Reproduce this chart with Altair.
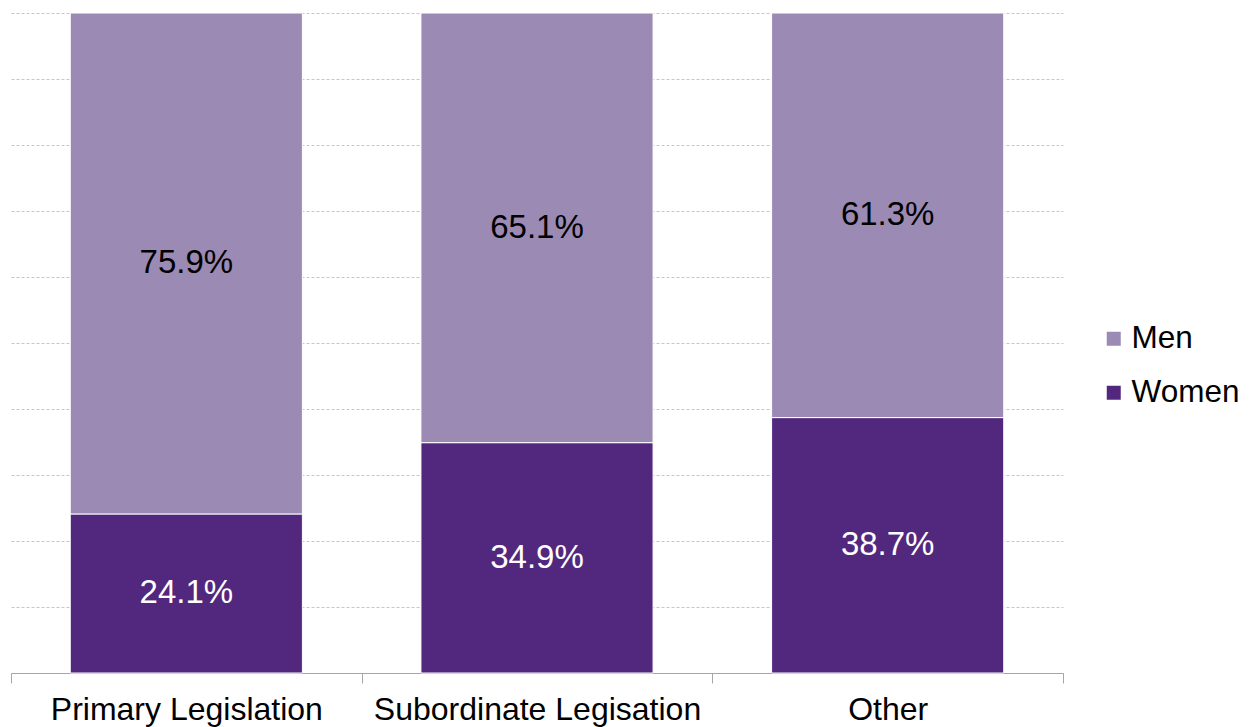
import altair as alt
import pandas as pd

categories = ["Primary Legislation", "Subordinate Legisation", "Other"]
women = [24.1, 34.9, 38.7]
men = [75.9, 65.1, 61.3]

rows = []
for c, w, m in zip(categories, women, men):
    rows.append({"category": c, "sex": "Women", "value": w, "ord": 0})
    rows.append({"category": c, "sex": "Men", "value": m, "ord": 1})
df = pd.DataFrame(rows)

FONT = "Liberation Sans"
W, H = 1052, 660

x_enc = alt.X(
    "category:N",
    sort=categories,
    title=None,
    scale=alt.Scale(paddingInner=0, paddingOuter=0),
    axis=alt.Axis(
        labelAngle=0,
        labelFontSize=32,
        labelFont=FONT,
        labelColor="black",
        labelPadding=11,
        labelLimit=0,
        tickBand="extent",
        tickSize=10,
        tickColor="#a6a6a6",
        domainColor="#a6a6a6",
        grid=False,
    ),
)

bars = alt.Chart(df).mark_bar(
    stroke="white", strokeWidth=1, width=alt.RelativeBandSize(0.662)
).encode(
    x=x_enc,
    y=alt.Y(
        "value:Q",
        stack="zero",
        scale=alt.Scale(domain=[0, 100], nice=False),
        title=None,
        axis=alt.Axis(
            values=[0, 10, 20, 30, 40, 50, 60, 70, 80, 90, 100],
            labels=False,
            ticks=False,
            domain=False,
            grid=True,
            gridColor="#c6c6c6",
            gridDash=[3, 2],
            gridWidth=1,
        ),
    ),
    color=alt.Color(
        "sex:N",
        scale=alt.Scale(domain=["Men", "Women"], range=["#9a8ab4", "#52287e"]),
        legend=alt.Legend(
            title=None,
            orient="none",
            legendX=1087,
            legendY=310,
            labelFontSize=31.5,
            labelFont=FONT,
            labelColor="black",
            symbolType="square",
            symbolSize=196,
            symbolStrokeWidth=0,
            rowPadding=21,
            labelOffset=2,
        ),
    ),
    order=alt.Order("ord:Q"),
)

labels = (
    alt.Chart(df)
    .transform_stack(
        stack="value",
        groupby=["category"],
        sort=[alt.SortField("ord")],
        as_=["y0", "y1"],
    )
    .transform_calculate(
        mid="(datum.y0 + datum.y1) / 2",
        label="format(datum.value, '.1f') + '%'",
    )
    .mark_text(fontSize=33, font=FONT, baseline="middle", align="center")
    .encode(
        x=alt.X("category:N", sort=categories),
        y=alt.Y("mid:Q"),
        text=alt.Text("label:N"),
        color=alt.condition(
            alt.datum.sex == "Women", alt.value("white"), alt.value("black")
        ),
    )
)

chart = (
    alt.layer(bars, labels)
    .properties(
        width=W,
        height=H,
        padding={"left": 10, "top": 12, "right": 5, "bottom": 5},
    )
    .configure_view(stroke=None)
)

chart.save("out.html", embed_options={"renderer": "svg", "actions": False})
